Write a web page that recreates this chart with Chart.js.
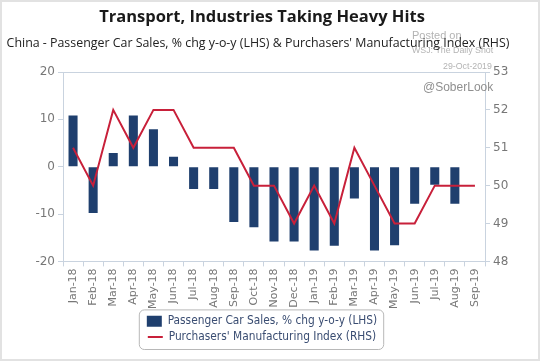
<!DOCTYPE html>
<html><head><meta charset="utf-8">
<script src="https://cdn.jsdelivr.net/npm/chart.js@4/dist/chart.umd.min.js"></script>
<style>html,body{margin:0;padding:0;background:#fff}#wrap{width:541px;height:361px;position:relative}</style>
</head><body><div id="wrap"><canvas id="c" width="541" height="361"></canvas></div>
<script>
const categories = ["Jan-18","Feb-18","Mar-18","Apr-18","May-18","Jun-18","Jul-18","Aug-18","Sep-18","Oct-18","Nov-18","Dec-18","Jan-19","Feb-19","Mar-19","Apr-19","May-19","Jun-19","Jul-19","Aug-19","Sep-19"];
const carSales = [10.8,-9.8,2.9,10.8,7.9,2.1,-4.7,-4.7,-11.7,-12.8,-15.8,-15.8,-17.7,-16.7,-6.7,-17.7,-16.6,-7.8,-3.8,-7.8,null];
const pmi = [51,50,52,51,52,52,51,51,51,50,50,49,50,49,51,50,49,49,50,50,50];
const leftTicks = [-20,-10,0,10,20];
const rightTicks = [48,49,50,51,52,53];
const titleText = "Transport, Industries Taking Heavy Hits";
const subtitleText = "China - Passenger Car Sales, % chg y-o-y (LHS) & Purchasers' Manufacturing Index (RHS)";
const seriesNames = ["Passenger Car Sales, % chg y-o-y (LHS)", "Purchasers' Manufacturing Index (RHS)"];

const axisColor = '#c9d3df';
const tickFont = {family: 'DejaVu Sans', size: 12};
const barColor = '#1f3f6e';
const lineColor = '#c8203a';
const legendText = '#3a4d72';

const deco = {
  id: 'deco',
  afterLayout(chart) {
    const lg = chart.legend;
    if (lg) { lg.left -= 12; lg.right -= 12; }
  },
  beforeDraw(chart) {
    const ctx = chart.ctx;
    ctx.save();
    ctx.fillStyle = '#fff';
    ctx.fillRect(0,0,chart.width,chart.height);
    ctx.strokeStyle = '#e2e2e2';
    ctx.lineWidth = 2;
    ctx.strokeRect(1,1,chart.width-3,chart.height-2);
    ctx.restore();
  },
  afterDraw(chart) {
    const ctx = chart.ctx;
    const a = chart.chartArea;
    ctx.save();
    ctx.strokeStyle = axisColor; ctx.lineWidth = 1;
    ctx.beginPath(); ctx.moveTo(a.left, a.top+0.5); ctx.lineTo(a.right, a.top+0.5); ctx.stroke();
    ctx.fillStyle = 'rgba(160,160,160,0.8)';
    ctx.textAlign = 'left'; ctx.textBaseline = 'middle';
    ctx.font = '11px "Liberation Sans"';
    ctx.fillText('Posted on', 412, 36);
    ctx.font = '8.8px "Liberation Sans"';
    ctx.fillText('WSJ: The Daily Shot', 412, 51);
    ctx.fillText('29-Oct-2019', 443, 67);
    ctx.font = '12px "Liberation Sans"';
    ctx.fillStyle = '#8f8f8f';
    ctx.fillText('@SoberLook', 423, 88);
    ctx.textAlign = 'center';
    ctx.fillStyle = '#1a1a1a';
    ctx.font = 'bold 16.5px "Open Sans"';
    ctx.fillText(titleText, 262, 17);
    ctx.font = '12.4px "Open Sans"';
    ctx.fillStyle = '#222';
    ctx.fillText(subtitleText, 258, 43);
    const lg = chart.legend;
    if (lg && lg.legendHitBoxes && lg.legendHitBoxes.length) {
      let l=1e9,r=-1e9,t=1e9,b=-1e9;
      lg.legendHitBoxes.forEach(h=>{l=Math.min(l,h.left);r=Math.max(r,h.left+h.width);t=Math.min(t,h.top);b=Math.max(b,h.top+h.height);});
      const x=l-8, y=t-6, w=(r-l)+14, hh=(b-t)+12;
      ctx.strokeStyle = '#b8b8b8'; ctx.lineWidth = 1;
      ctx.beginPath();
      if (ctx.roundRect) ctx.roundRect(x+0.5,y+0.5,w,hh,5); else ctx.rect(x+0.5,y+0.5,w,hh);
      ctx.stroke();
    }
    ctx.restore();
  }
};

new Chart(document.getElementById('c'), {
  data: {
    labels: categories,
    datasets: [
      {type:'line', label: seriesNames[1], data: pmi, yAxisID:'y1', borderColor:lineColor, backgroundColor:lineColor, borderWidth:2, pointRadius:0, tension:0, order:0},
      {type:'bar', label: seriesNames[0], data: carSales, yAxisID:'y', backgroundColor:barColor, borderWidth:0, barPercentage:0.45, categoryPercentage:1, order:1}
    ]
  },
  options: {
    responsive:false, animation:false,
    layout:{padding:{top:72,left:0,right:0,bottom:8}},
    plugins:{
      title:{display:false},
      tooltip:{enabled:false},
      legend:{
        position:'bottom', fullSize:false,
        labels:{
          font:{family:'DejaVu Sans Condensed', size:11.8}, color:legendText,
          usePointStyle:true, pointStyleWidth:15, boxWidth:15, boxHeight:11, padding:4,
          generateLabels(chart){
            return [
              {text: seriesNames[0], fillStyle:barColor, strokeStyle:barColor, lineWidth:0, pointStyle:'rect', datasetIndex:1, fontColor:legendText},
              {text: seriesNames[1], fillStyle:lineColor, strokeStyle:lineColor, lineWidth:2, pointStyle:'line', datasetIndex:0, fontColor:legendText}
            ];
          }
        }
      }
    },
    scales:{
      x:{
        offset:true,
        grid:{display:true, drawOnChartArea:false, offset:true, color:axisColor, tickLength:5},
        border:{color:axisColor},
        ticks:{font:{family:'DejaVu Sans', size:11}, color:'#777', maxRotation:90, minRotation:90, autoSkip:false, padding:2},
        afterFit(s){ s.height = 50; }
      },
      y:{
        position:'left', min:-20, max:20,
        afterBuildTicks(s){ s.ticks = leftTicks.map(v=>({value:v})); },
        grid:{display:true, drawOnChartArea:false, color:axisColor, tickLength:5},
        border:{color:axisColor},
        ticks:{font:tickFont, color:'#777', padding:3},
        afterFit(s){ s.width = 63; }
      },
      y1:{
        position:'right', min:48, max:53,
        afterBuildTicks(s){ s.ticks = rightTicks.map(v=>({value:v})); },
        grid:{display:true, drawOnChartArea:false, color:axisColor, tickLength:5},
        border:{color:axisColor},
        ticks:{font:tickFont, color:'#777', padding:3},
        afterFit(s){ s.width = 56; }
      }
    }
  },
  plugins:[deco]
});
</script></body></html>
